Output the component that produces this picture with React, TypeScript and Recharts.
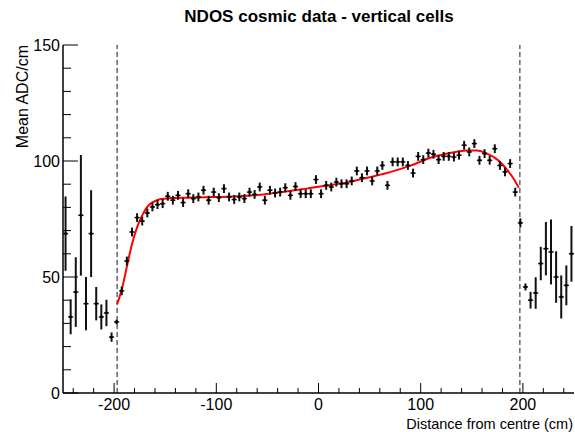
import React from "react";
import {
  ComposedChart,
  Scatter,
  Line,
  XAxis,
  YAxis,
  ErrorBar,
  ReferenceLine,
} from "recharts";

// bin centres (cm), 5 cm bins
const binCentres = [
  -247.5, -242.5, -237.5, -232.5, -227.5, -222.5, -217.5, -212.5, -207.5, -202.5,
  -197.5, -192.5, -187.5, -182.5, -177.5, -172.5, -167.5, -162.5, -157.5, -152.5,
  -147.5, -142.5, -137.5, -132.5, -127.5, -122.5, -117.5, -112.5, -107.5, -102.5,
  -97.5, -92.5, -87.5, -82.5, -77.5, -72.5, -67.5, -62.5, -57.5, -52.5,
  -47.5, -42.5, -37.5, -32.5, -27.5, -22.5, -17.5, -12.5, -7.5, -2.5,
  2.5, 7.5, 12.5, 17.5, 22.5, 27.5, 32.5, 37.5, 42.5, 47.5,
  52.5, 57.5, 62.5, 67.5, 72.5, 77.5, 82.5, 87.5, 92.5, 97.5,
  102.5, 107.5, 112.5, 117.5, 122.5, 127.5, 132.5, 137.5, 142.5, 147.5,
  152.5, 157.5, 162.5, 167.5, 172.5, 177.5, 182.5, 187.5, 192.5, 197.5,
  202.5, 207.5, 212.5, 217.5, 222.5, 227.5, 232.5, 237.5, 242.5, 247.5,
];

const meanAdc = [
  68.7, 32.8, 43.5, 76.6, 38.5, 68.7, 38.5, 32.8, 34.5, 24.1,
  30.6, 44.0, 56.9, 69.4, 75.6, 74.1, 77.6, 80.2, 81.2, 81.6,
  84.8, 83.1, 85.2, 82.1, 85.9, 83.8, 84.5, 87.4, 83.1, 86.6,
  84.2, 88.1, 84.5, 83.4, 84.5, 83.8, 86.6, 85.6, 88.8, 83.1,
  87.4, 86.2, 86.6, 88.5, 85.2, 89.0, 85.9, 85.9, 85.9, 92.0,
  85.9, 89.5, 88.8, 90.9, 90.2, 90.2, 91.4, 95.7, 92.8, 95.7,
  91.4, 95.7, 98.1, 89.5, 99.6, 99.6, 99.6, 98.1, 94.8, 102.0,
  100.6, 103.4, 102.9, 100.6, 102.0, 102.0, 101.7, 102.5, 106.8, 103.9,
  107.5, 100.3, 103.2, 100.3, 105.3, 98.1, 95.3, 98.9, 86.6, 73.3,
  45.7, 40.0, 43.1, 55.8, 62.2, 60.8, 50.0, 41.4, 46.4, 60.0,
];

const adcError = [
  16, 7.5, 15, 26, 11.5, 18.7, 7.2, 5.4, 5.7, 2,
  1, 1.9, 1.9, 1.9, 1.9, 1.9, 1.9, 1.9, 1.9, 1.9,
  1.9, 1.9, 1.9, 1.9, 1.9, 1.9, 1.9, 1.9, 1.9, 1.9,
  1.9, 1.9, 1.9, 1.9, 1.9, 1.9, 1.9, 1.9, 1.9, 1.9,
  1.9, 1.9, 1.9, 1.9, 1.9, 1.9, 1.9, 1.9, 1.9, 1.9,
  1.9, 1.9, 1.9, 1.9, 1.9, 1.9, 1.9, 1.9, 1.9, 1.9,
  1.9, 1.9, 1.9, 1.9, 1.9, 1.9, 1.9, 1.9, 1.9, 1.9,
  1.9, 1.9, 1.9, 1.9, 1.9, 1.9, 1.9, 1.9, 1.9, 1.9,
  1.9, 1.9, 1.9, 1.9, 1.9, 1.9, 1.9, 1.9, 1.9, 2,
  1.5, 3.6, 6.8, 7.2, 11.5, 14, 11.1, 9.3, 8.6, 12,
];

const halfBinWidth = 2.5;

// fitted curve
const fitX = [
  -197, -192, -187, -182, -177, -172, -167, -162, -155, -145, -130, -110, -90, -70,
  -50, -30, -10, 10, 30, 50, 70, 90, 110, 130, 145, 155, 165, 175, 185, 190, 196,
];
const fitY = [
  38.3, 45.5, 55.5, 65, 72, 77, 80.5, 82.3, 83.5, 84.0, 84.2, 84.4, 84.6, 85.0,
  85.8, 87.0, 88.2, 89.5, 91.0, 93.0, 95.2, 98.0, 101.5, 103.6, 104.5, 104.5, 103.2,
  100.6, 96.0, 93.0, 88.5,
];

const xTicks = [
  -240, -220, -200, -180, -160, -140, -120, -100, -80, -60, -40, -20, 0,
  20, 40, 60, 80, 100, 120, 140, 160, 180, 200, 220, 240,
];
const xLabels = [-200, -100, 0, 100, 200];
const yTicks = [0, 10, 20, 30, 40, 50, 60, 70, 80, 90, 100, 110, 120, 130, 140, 150];
const yLabels = [0, 50, 100, 150];
const cutPositions = [-197, 197];

const points = binCentres.map((x, i) => ({
  x,
  y: meanAdc[i],
  ey: adcError[i],
  ex: halfBinWidth,
}));
const fit = fitX.map((x, i) => ({ x, y: fitY[i] }));

const FONT = '"Liberation Sans", Arial, Helvetica, sans-serif';
const frame = { stroke: "#000", strokeWidth: 1.5 };

const BottomTick = (props: any) => {
  const { x, y, payload } = props;
  const major = xLabels.includes(payload.value);
  return (
    <g>
      <line x1={x} y1={y} x2={x} y2={y - (major ? 10 : 5)} stroke="#000" />
      {major && (
        <text x={x} y={y + 17} textAnchor="middle" fontSize={16} fontFamily={FONT} fill="#000">
          {payload.value}
        </text>
      )}
    </g>
  );
};

const TopTick = (props: any) => {
  const { x, y, payload } = props;
  const major = xLabels.includes(payload.value);
  return <line x1={x} y1={y} x2={x} y2={y + (major ? 10 : 5)} stroke="#000" />;
};

const LeftTick = (props: any) => {
  const { x, y, payload } = props;
  const major = yLabels.includes(payload.value);
  return (
    <g>
      <line x1={x} y1={y} x2={x + (major ? 15 : 8)} y2={y} stroke="#000" />
      {major && (
        <text x={x - 3} y={y + 5.7} textAnchor="end" fontSize={16} fontFamily={FONT} fill="#000">
          {payload.value}
        </text>
      )}
    </g>
  );
};

const RightTick = (props: any) => {
  const { x, y, payload } = props;
  const major = yLabels.includes(payload.value);
  return <line x1={x} y1={y} x2={x - (major ? 15 : 8)} y2={y} stroke="#000" />;
};

const Marker = (props: any) => <circle cx={props.cx} cy={props.cy} r={1.4} fill="#000" />;

export default function App() {
  return (
    <div style={{ position: "absolute", left: 0, top: 0, width: 575, height: 432, background: "#fff" }}>
      <ComposedChart width={575} height={432} margin={{ top: 45, right: 1, bottom: 0, left: 0 }}>
        <XAxis
          dataKey="x"
          type="number"
          domain={[-250, 250]}
          ticks={xTicks}
          interval={0}
          height={39}
          tickSize={0}
          tickMargin={0}
          tickLine={false}
          tick={BottomTick}
          axisLine={frame}
          allowDataOverflow
        />
        <XAxis
          xAxisId="top"
          orientation="top"
          type="number"
          domain={[-250, 250]}
          ticks={xTicks}
          interval={0}
          height={0}
          tickSize={0}
          tickMargin={0}
          tickLine={false}
          tick={TopTick}
          axisLine={frame}
          allowDataOverflow
        />
        <YAxis
          type="number"
          domain={[0, 150]}
          ticks={yTicks}
          interval={0}
          width={63}
          tickSize={0}
          tickMargin={0}
          tickLine={false}
          tick={LeftTick}
          axisLine={frame}
          allowDataOverflow
        />
        <YAxis
          yAxisId="right"
          orientation="right"
          type="number"
          domain={[0, 150]}
          ticks={yTicks}
          interval={0}
          width={0}
          tickSize={0}
          tickMargin={0}
          tickLine={false}
          tick={RightTick}
          axisLine={frame}
          allowDataOverflow
        />
        {cutPositions.map((c) => (
          <ReferenceLine key={c} x={c} stroke="#666" strokeWidth={1.5} strokeDasharray="5 3" />
        ))}
        <Line
          data={fit}
          dataKey="y"
          type="monotone"
          stroke="#ff0000"
          strokeWidth={2}
          dot={false}
          isAnimationActive={false}
        />
        <Scatter data={points} dataKey="y" shape={Marker} isAnimationActive={false}>
          <ErrorBar dataKey="ey" direction="y" width={0} stroke="#111" strokeWidth={2} />
          <ErrorBar dataKey="ex" direction="x" width={0} stroke="#111" strokeWidth={1.5} />
        </Scatter>
      </ComposedChart>
      <svg
        width={575}
        height={432}
        style={{ position: "absolute", left: 0, top: 0, pointerEvents: "none" }}
      >
        <text x={319} y={21.7} textAnchor="middle" fontSize={17} fontWeight="bold" fontFamily={FONT} fill="#000">
          NDOS cosmic data - vertical cells
        </text>
        <text
          transform="translate(28.3,45) rotate(-90)"
          textAnchor="end"
          fontSize={16}
          fontFamily={FONT}
          fill="#000"
        >
          Mean ADC/cm
        </text>
        <text x={573} y={428.5} textAnchor="end" fontSize={14.5} fontFamily={FONT} fill="#000">
          Distance from centre (cm)
        </text>
      </svg>
    </div>
  );
}
